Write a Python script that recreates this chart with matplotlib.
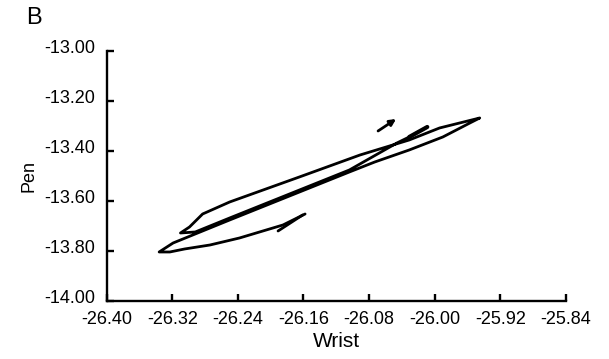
import matplotlib.pyplot as plt
import matplotlib.transforms as mtransforms

# trajectory (wrist vs pen)
wrist = [-26.009, -26.031, -26.046, -26.104, -26.177, -26.250, -26.292, -26.310,
         -26.299, -26.283, -26.250, -26.165, -26.091, -26.031, -25.994, -25.945,
         -25.957, -25.990, -26.031, -26.073, -26.104, -26.177, -26.250, -26.295,
         -26.319, -26.336,
         -26.323, -26.305, -26.274, -26.238, -26.185, -26.158]
pen = [-13.304, -13.344, -13.368, -13.476, -13.572, -13.668, -13.724, -13.728,
       -13.704, -13.652, -13.604, -13.504, -13.416, -13.356, -13.308, -13.268,
       -13.288, -13.344, -13.396, -13.444, -13.484, -13.580, -13.676, -13.736,
       -13.768, -13.804,
       -13.804, -13.792, -13.776, -13.748, -13.696, -13.652]

# hook at the end of the stroke
barb_wrist = [-26.191, -26.161]
barb_pen = [-13.720, -13.656]

# small direction arrow
dir_wrist = [-26.069, -26.047]
dir_pen = [-13.320, -13.272]

xticks = [-26.40, -26.32, -26.24, -26.16, -26.08, -26.00, -25.92, -25.84]
yticks = [-14.00, -13.80, -13.60, -13.40, -13.20, -13.00]

plt.rcParams['font.family'] = ['Liberation Sans', 'DejaVu Sans']

fig = plt.figure(figsize=(6.09, 3.59), dpi=100)
ax = fig.add_axes([0.1752, 0.1616, 0.9291 - 0.1752, 0.858 - 0.1616])

ax.plot(wrist, pen, color='black', lw=2.0, solid_joinstyle='round', solid_capstyle='round')
ax.plot(barb_wrist, barb_pen, color='black', lw=2.0, solid_capstyle='round')
ax.plot(wrist[:2], pen[:2], color='black', lw=3.0, solid_capstyle='round')
ax.annotate('', xy=(dir_wrist[1], dir_pen[1]), xytext=(dir_wrist[0], dir_pen[0]),
            arrowprops=dict(arrowstyle='-|>', color='black', lw=2.0,
                            mutation_scale=9, shrinkA=0, shrinkB=0))

ax.set_xlim(-26.40, -25.84)
ax.set_ylim(-14.00, -13.00)
ax.set_xticks(xticks)
ax.set_yticks(yticks)
ax.set_xticklabels([f'{v:.2f}' for v in xticks])
ax.set_yticklabels([f'{v:.2f}' for v in yticks])

for s in ['top', 'right']:
    ax.spines[s].set_visible(False)
for s in ['left', 'bottom']:
    ax.spines[s].set_linewidth(1.7)
ax.tick_params(direction='in', length=5, width=1.7, labelsize=13)
ax.tick_params(axis='x', pad=7)
ax.tick_params(axis='y', pad=8)

# the scan has the y labels sitting a little above their ticks
up = mtransforms.ScaledTranslation(0, 4 / 100, fig.dpi_scale_trans)
for lab in ax.get_yticklabels():
    lab.set_transform(lab.get_transform() + up)

ax.set_xlabel('Wrist', fontsize=15, labelpad=3)
ax.set_ylabel('Pen', fontsize=13, labelpad=5)
fig.text(0.056, 0.951, 'B', fontsize=17, ha='center', va='center')

fig.savefig('out.png', dpi=100)
